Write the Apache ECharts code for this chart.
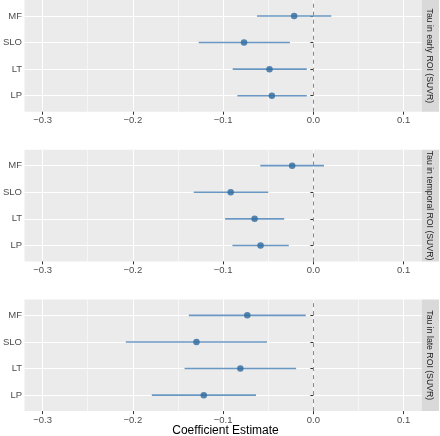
<!DOCTYPE html>
<html><head><meta charset="utf-8">
<script src="https://cdn.jsdelivr.net/npm/echarts@6/dist/echarts.min.js"></script>
<style>html,body{margin:0;padding:0;background:#fff}#c{width:440px;height:436px}</style>
</head><body><div id="c"></div>
<script>
// categories from bottom to top
const categories = ['LP', 'LT', 'SLO', 'MF'];
const panelNames = ['Tau in early ROI (SUVR)', 'Tau in temporal ROI (SUVR)', 'Tau in late ROI (SUVR)'];
const xTicks = [-0.3, -0.2, -0.1, 0.0, 0.1];
const xTitle = 'Coefficient Estimate';

// order: LP, LT, SLO, MF
const earlyEst  = [-0.0460, -0.0486, -0.0768, -0.0213];
const earlyLow  = [-0.0842, -0.0894, -0.1270, -0.0625];
const earlyHigh = [-0.0073, -0.0073, -0.0260,  0.0199];

const temporalEst  = [-0.0585, -0.0651, -0.0916, -0.0235];
const temporalLow  = [-0.0897, -0.0978, -0.1325, -0.0588];
const temporalHigh = [-0.0272, -0.0323, -0.0500,  0.0118];

const lateEst  = [-0.1214, -0.0809, -0.1295, -0.0732];
const lateLow  = [-0.1790, -0.1427, -0.2078, -0.1380];
const lateHigh = [-0.0636, -0.0191, -0.0514, -0.0084];

const panels = [
  {est: earlyEst, low: earlyLow, high: earlyHigh},
  {est: temporalEst, low: temporalLow, high: temporalHigh},
  {est: lateEst, low: lateLow, high: lateHigh}
];

const LEFT = 23.3, RIGHT = 18.3, H = 111.7;
const TOPS = [0, 149.7, 299.4];
const LINE_COLOR = '#6A98C4', POINT_COLOR = '#2E6A9E';

const grids = [], xAxes = [], yAxes = [], series = [], graphics = [];
const fmtX = v => (v < 0 ? '\u2212' : '') + Math.abs(v).toFixed(1);

panels.forEach((p, k) => {
  grids.push({left: LEFT, right: RIGHT, top: TOPS[k], height: H, show: true,
    backgroundColor: '#EBEBEB', borderWidth: 0, containLabel: false});
  xAxes.push({type: 'value', gridIndex: k, min: -0.32, max: 0.12, splitNumber: 5,
    axisLine: {show: false},
    axisTick: {show: true, length: 3, lineStyle: {color: '#333333', width: 1}, customValues: xTicks},
    axisLabel: {customValues: xTicks, formatter: fmtX, color: '#4D4D4D', fontSize: 9.5,
      fontFamily: 'Liberation Sans', margin: 4},
    splitLine: {show: true, lineStyle: {color: '#FFFFFF', width: 1.1}},
    minorTick: {show: false, splitNumber: 2},
    minorSplitLine: {show: true, lineStyle: {color: '#FFFFFF', width: 0.55}}
  });
  yAxes.push({type: 'value', gridIndex: k, min: 0.4, max: 4.6, splitNumber: 4,
    axisLine: {show: false},
    axisTick: {show: true, length: 3, lineStyle: {color: '#333333', width: 1}, customValues: [1, 2, 3, 4]},
    axisLabel: {customValues: [1, 2, 3, 4], formatter: v => categories[Math.round(v) - 1],
      color: '#4D4D4D', fontSize: 9.5, fontFamily: 'Liberation Sans', margin: 2.5},
    splitLine: {show: true, lineStyle: {color: '#FFFFFF', width: 1.1}}
  });
  series.push({
    type: 'custom', xAxisIndex: k, yAxisIndex: k,
    data: categories.map((c, i) => [p.low[i], p.high[i], i + 1]),
    encode: {x: [0, 1], y: 2},
    renderItem: (params, api) => {
      const a = api.coord([api.value(0), api.value(2)]);
      const b = api.coord([api.value(1), api.value(2)]);
      return {type: 'line', shape: {x1: a[0], y1: a[1], x2: b[0], y2: b[1]},
        style: {stroke: LINE_COLOR, lineWidth: 1.6}};
    },
    z: 3, silent: true
  });
  series.push({
    type: 'scatter', xAxisIndex: k, yAxisIndex: k,
    data: p.est.map((v, i) => [v, i + 1]),
    symbolSize: 6.5, itemStyle: {color: POINT_COLOR}, z: 4, silent: true,
    markLine: {silent: true, symbol: ['none', 'none'], label: {show: false},
      lineStyle: {type: [4, 4], color: '#888888', width: 1}, data: [{xAxis: 0}], z: 2}
  });
  graphics.push({type: 'rect', shape: {x: 440 - RIGHT, y: TOPS[k], width: 17.3, height: H},
    style: {fill: '#D9D9D9'}, silent: true});
  graphics.push({type: 'text', x: 429.5, y: TOPS[k] + H / 2, rotation: -Math.PI / 2,
    style: {text: panelNames[k], fill: '#1A1A1A', fontSize: 8.7, fontFamily: 'Liberation Sans',
      textAlign: 'center', textVerticalAlign: 'middle'}, silent: true});
});

graphics.push({type: 'text', x: LEFT + (440 - LEFT - RIGHT) / 2 + 3, y: 431,
  style: {text: xTitle, fill: '#000000', fontSize: 12, fontFamily: 'Liberation Sans',
    textAlign: 'center', textVerticalAlign: 'middle'}, silent: true});

const chart = echarts.init(document.getElementById('c'), null, {renderer: 'canvas'});
chart.setOption({
  animation: false,
  grid: grids, xAxis: xAxes, yAxis: yAxes, series: series, graphic: graphics
});
</script></body></html>
